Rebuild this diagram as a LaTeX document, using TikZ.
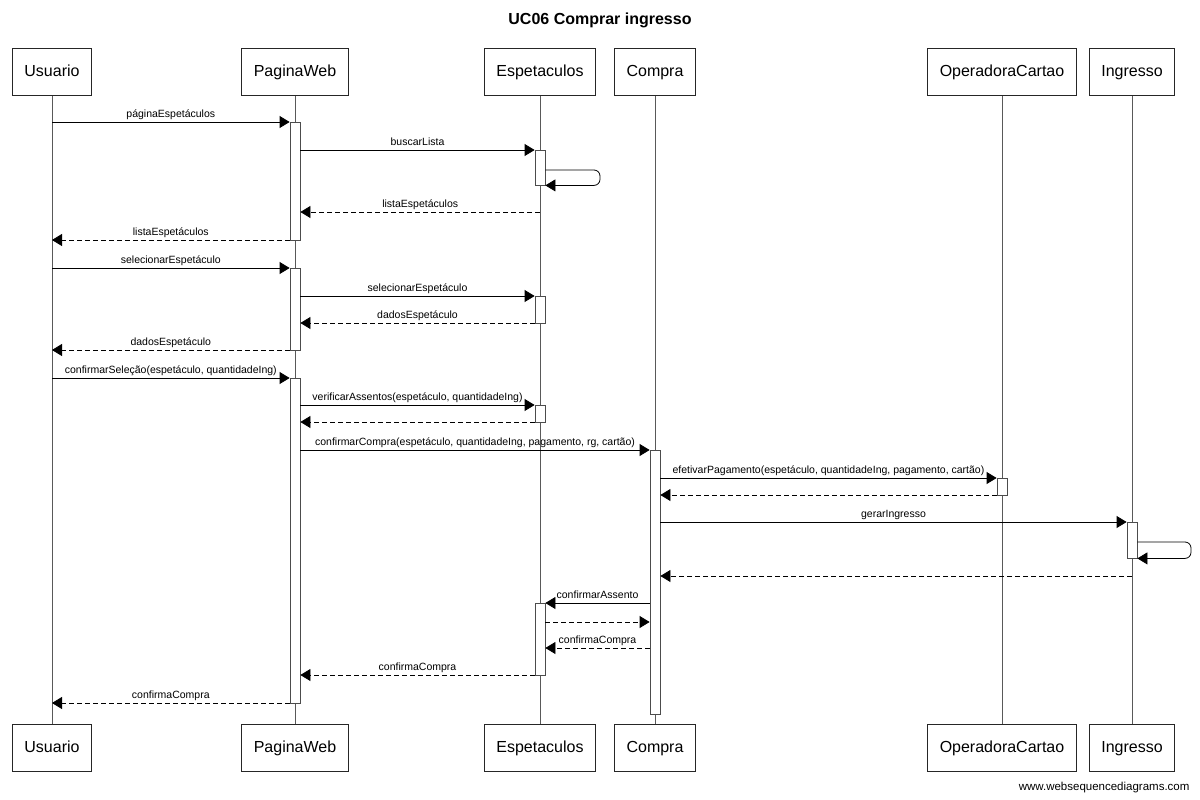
\documentclass[tikz,border=0pt]{standalone}
\usepackage{fontspec}
\setmainfont{Liberation Sans}
\usetikzlibrary{arrows.meta}

\begin{document}
\begin{tikzpicture}[x=1pt,y=-1pt,
	participant/.style={draw=black!85, line width=0.8pt, minimum height=47pt, inner xsep=12pt, text height=11.5pt, text depth=3.4pt, font=\fontsize{16}{19}\selectfont},
	lifeline/.style={draw=black!65, line width=0.8pt},
	act/.style={draw=black!70, fill=white, line width=0.8pt, minimum width=10pt, inner sep=0pt},
	msg/.style={-{Triangle[length=10pt,width=12pt]}, line width=0.8pt},
	ret/.style={msg, dash pattern=on 5pt off 3pt},
	lbl/.style={above, inner sep=1.5pt, text depth=2.2pt, font=\fontsize{10.5}{12}\selectfont}]
	\useasboundingbox (0,0) rectangle (1200,800);

	%title
	\node[font=\bfseries\fontsize{16}{19}\selectfont] (title) at (600,20) {UC06 Comprar ingresso};

	%participants
	\foreach \n/\t/\x in {usr/Usuario/52, web/PaginaWeb/295, esp/Espetaculos/540, cmp/Compra/655, opc/OperadoraCartao/1002, ing/Ingresso/1132} {
		\node[participant] (\n) at (\x,72) {\t};
		\node[participant] (\n2) at (\x,748) {\t};
		\draw[lifeline] (\n) -- (\n2);
	}

	%message rows
	\foreach \i/\y in {1/122, 2/150, 4/212, 5/240, 6/268, 7/296, 8/323, 9/350, 10/378, 11/405, 12/422,
		13/450, 14/478, 15/495, 16/522, 18/576, 19/603, 20/622, 21/648, 22/675, 23/703}
		\coordinate (m\i) at (0,\y);
	\coordinate (espLoop) at (600,170);
	\coordinate (ingLoop) at (1191,542);

	%activations
	\node[act, minimum height=118pt] (webA) at (295,181) {};
	\node[act, minimum height=35pt] (espA) at (540,167.5) {};
	\node[act, minimum height=82pt] (webB) at (295,309) {};
	\node[act, minimum height=27pt] (espB) at (540,309.5) {};
	\node[act, minimum height=325pt] (webC) at (295,540.5) {};
	\node[act, minimum height=17pt] (espC) at (540,413.5) {};
	\node[act, minimum height=264pt] (cmpA) at (655,582) {};
	\node[act, minimum height=17pt] (opcA) at (1002,486.5) {};
	\node[act, minimum height=36pt] (ingA) at (1132,540) {};
	\node[act, minimum height=72pt] (espD) at (540,639) {};

	%messages
	\draw[msg] (usr |- m1) -- node[lbl] {páginaEspetáculos} (webA.west |- m1);
	\draw[msg] (webA.east |- m2) -- node[lbl] {buscarLista} (espA.west |- m2);
	\draw[msg, rounded corners=6pt] (espA.east |- espLoop) -- (espLoop) |- (espA.south east);
	\draw[ret] (esp |- m4) -- node[lbl] {listaEspetáculos} (webA.east |- m4);
	\draw[ret] (webA.west |- m5) -- node[lbl] {listaEspetáculos} (usr |- m5);
	\draw[msg] (usr |- m6) -- node[lbl] {selecionarEspetáculo} (webB.west |- m6);
	\draw[msg] (webB.east |- m7) -- node[lbl] {selecionarEspetáculo} (espB.west |- m7);
	\draw[ret] (espB.west |- m8) -- node[lbl] {dadosEspetáculo} (webB.east |- m8);
	\draw[ret] (webB.west |- m9) -- node[lbl] {dadosEspetáculo} (usr |- m9);
	\draw[msg] (usr |- m10) -- node[lbl] {confirmarSeleção(espetáculo, quantidadeIng)} (webC.west |- m10);
	\draw[msg] (webC.east |- m11) -- node[lbl] {verificarAssentos(espetáculo, quantidadeIng)} (espC.west |- m11);
	\draw[ret] (espC.west |- m12) -- (webC.east |- m12);
	\draw[msg] (webC.east |- m13) -- node[lbl] {confirmarCompra(espetáculo, quantidadeIng, pagamento, rg, cartão)} (cmpA.west |- m13);
	\draw[msg] (cmpA.east |- m14) -- node[lbl] {efetivarPagamento(espetáculo, quantidadeIng, pagamento, cartão)} (opcA.west |- m14);
	\draw[ret] (opcA.west |- m15) -- (cmpA.east |- m15);
	\draw[msg] (cmpA.east |- m16) -- node[lbl] {gerarIngresso} (ingA.west |- m16);
	\draw[msg, rounded corners=6pt] (ingA.east |- ingLoop) -- (ingLoop) |- (ingA.south east);
	\draw[ret] (ing |- m18) -- (cmpA.east |- m18);
	\draw[msg] (cmpA.west |- m19) -- node[lbl] {confirmarAssento} (espD.east |- m19);
	\draw[ret] (espD.east |- m20) -- (cmpA.west |- m20);
	\draw[ret] (cmpA.west |- m21) -- node[lbl] {confirmaCompra} (espD.east |- m21);
	\draw[ret] (espD.west |- m22) -- node[lbl] {confirmaCompra} (webC.east |- m22);
	\draw[ret] (webC.west |- m23) -- node[lbl] {confirmaCompra} (usr |- m23);

	%footer
	\node[anchor=east, font=\fontsize{11.5}{14}\selectfont] (site) at (1193,788) {www.websequencediagrams.com};
\end{tikzpicture}
\end{document}
